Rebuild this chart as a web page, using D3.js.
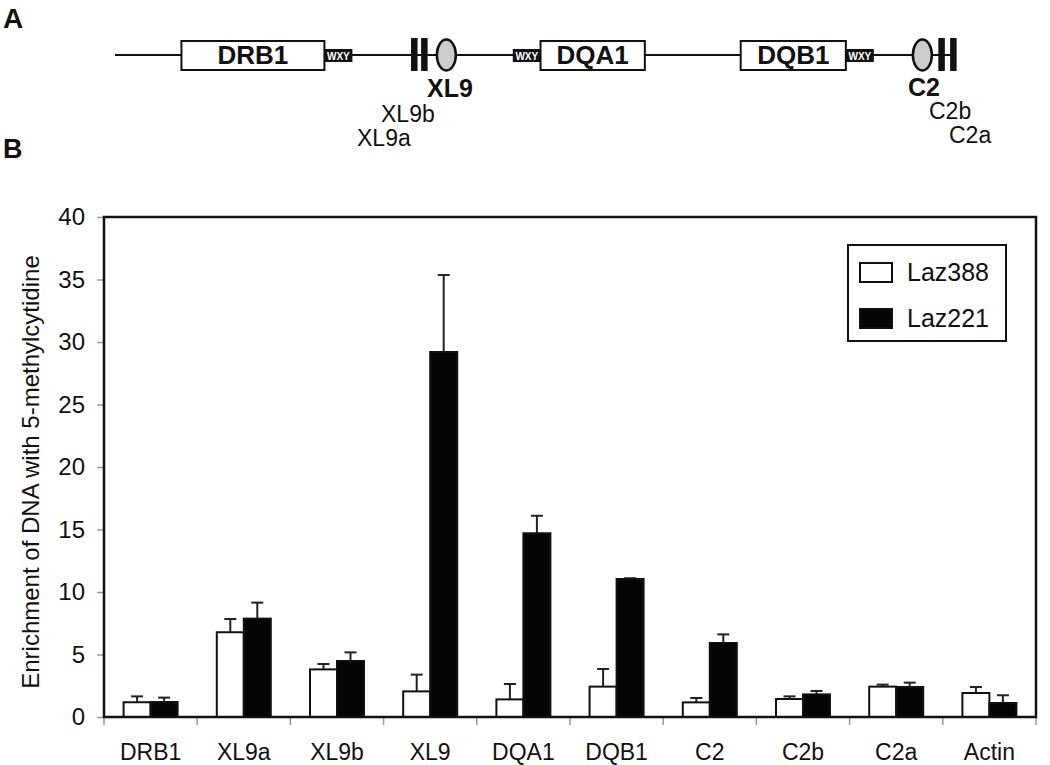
<!DOCTYPE html>
<html>
<head>
<meta charset="utf-8">
<script src="https://cdn.jsdelivr.net/npm/d3@7"></script>
<style>
  body { margin: 0; background: #fff; }
  text { font-family: "Liberation Sans", Arial, sans-serif; fill: #111; }
</style>
</head>
<body>
<div id="root"></div>
<script>
// chart data
const categories = ["DRB1", "XL9a", "XL9b", "XL9", "DQA1", "DQB1", "C2", "C2b", "C2a", "Actin"];
const seriesNames = ["Laz388", "Laz221"];
const laz388 = [1.18, 6.78, 3.81, 2.05, 1.41, 2.43, 1.17, 1.44, 2.43, 1.92];
const laz388Err = [0.47, 1.06, 0.43, 1.34, 1.23, 1.41, 0.35, 0.21, 0.16, 0.48];
const laz221 = [1.2, 7.87, 4.48, 29.2, 14.7, 11.04, 5.92, 1.81, 2.4, 1.12];
const laz221Err = [0.35, 1.28, 0.69, 6.16, 1.4, 0.06, 0.69, 0.27, 0.35, 0.62];
const yTicks = [0, 5, 10, 15, 20, 25, 30, 35, 40];

// schematic of the locus (map units along the line)
const mapGenes = ["DRB1", "DQA1", "DQB1"];
const mapInsulators = ["XL9", "C2"];
const mapSubLabels = [["XL9b", "XL9a"], ["C2b", "C2a"]];

const W = 1050, H = 765;
const svg = d3.select("#root").append("svg")
  .attr("width", W).attr("height", H);

// ---------- panel A ----------
const mx = d3.scaleLinear().domain([0, 100]).range([115, 956]);
const lineY = 55;
// gene boxes: [start, end] in map units
const geneSpan = [[7.9, 24.9], [50.6, 63.0], [74.4, 86.9]];
const wxyPos = [24.9, 47.3, 86.9];   // left edge of each WXY block
const ovalPos = [39.4, 96.0];
const barPos = [[35.2, 36.4], [97.9, 99.3]];

svg.append("line")
  .attr("x1", mx(0)).attr("x2", mx(100))
  .attr("y1", lineY).attr("y2", lineY)
  .attr("stroke", "#111").attr("stroke-width", 2);

mapGenes.forEach((g, i) => {
  const [a, b] = geneSpan[i];
  svg.append("rect")
    .attr("x", mx(a)).attr("y", 41)
    .attr("width", mx(b) - mx(a)).attr("height", 29)
    .attr("fill", "#fff").attr("stroke", "#111").attr("stroke-width", 2);
  svg.append("text")
    .attr("x", (mx(a) + mx(b)) / 2).attr("y", 64)
    .attr("text-anchor", "middle")
    .style("font-size", "26px").style("font-weight", "bold")
    .text(g);
});

wxyPos.forEach(p => {
  svg.append("rect")
    .attr("x", mx(p)).attr("y", 49)
    .attr("width", 28).attr("height", 13)
    .attr("fill", "#111");
  svg.append("text")
    .attr("x", mx(p) + 14).attr("y", 59.5)
    .attr("text-anchor", "middle")
    .style("font-size", "10px").style("font-weight", "bold")
    .style("fill", "#fff")
    .text("WXY");
});

barPos.forEach(pair => {
  pair.forEach(p => {
    svg.append("rect")
      .attr("x", mx(p)).attr("y", 38)
      .attr("width", 6.5).attr("height", 33)
      .attr("fill", "#111");
  });
});

ovalPos.forEach(p => {
  svg.append("ellipse")
    .attr("cx", mx(p)).attr("cy", lineY)
    .attr("rx", 9.5).attr("ry", 15.5)
    .attr("fill", "#ccc").attr("stroke", "#111").attr("stroke-width", 2.5);
});

// insulator labels
svg.append("text").attr("x", 450).attr("y", 97)
  .attr("text-anchor", "middle")
  .style("font-size", "25px").style("font-weight", "bold")
  .text(mapInsulators[0]);
svg.append("text").attr("x", 381).attr("y", 122)
  .style("font-size", "23px").text(mapSubLabels[0][0]);
svg.append("text").attr("x", 357).attr("y", 146)
  .style("font-size", "23px").text(mapSubLabels[0][1]);

svg.append("text").attr("x", 908).attr("y", 96)
  .style("font-size", "25px").style("font-weight", "bold")
  .text(mapInsulators[1]);
svg.append("text").attr("x", 929).attr("y", 119)
  .style("font-size", "23px").text(mapSubLabels[1][0]);
svg.append("text").attr("x", 949).attr("y", 143)
  .style("font-size", "23px").text(mapSubLabels[1][1]);

// panel letters
svg.append("text").attr("x", 3).attr("y", 28)
  .style("font-size", "28px").style("font-weight", "bold").text("A");
svg.append("text").attr("x", 3).attr("y", 158)
  .style("font-size", "27px").style("font-weight", "bold").text("B");

// ---------- panel B ----------
const plotLeft = 104, plotRight = 1036, plotTop = 217, plotBottom = 717;

const x0 = d3.scaleBand().domain(categories).range([plotLeft, plotRight]).padding(0);
const x1 = d3.scaleBand().domain(seriesNames)
  .range([(x0.bandwidth() - 54) / 2, (x0.bandwidth() + 54) / 2]);
const y = d3.scaleLinear().domain([0, 40]).range([plotBottom, plotTop]);

// y axis
const yAxis = svg.append("g")
  .attr("transform", `translate(${plotLeft},0)`)
  .call(d3.axisLeft(y).tickValues(yTicks).tickSize(7).tickPadding(12));
yAxis.select(".domain").remove();
yAxis.selectAll(".tick line").attr("stroke", "#999").attr("stroke-width", 1.5);
yAxis.selectAll(".tick text")
  .style("font-size", "24px").style("font-family", "'Liberation Sans', Arial, sans-serif")
  .attr("fill", "#111");

// x axis: ticks between the categories, labels centred
const xEdges = categories.map(c => x0(c)).concat([plotRight]);
svg.append("g").selectAll("line")
  .data(xEdges).enter().append("line")
  .attr("x1", d => d).attr("x2", d => d)
  .attr("y1", plotBottom).attr("y2", plotBottom + 8)
  .attr("stroke", "#999").attr("stroke-width", 1.5);
svg.append("g").selectAll("text")
  .data(categories).enter().append("text")
  .attr("x", d => x0(d) + x0.bandwidth() / 2)
  .attr("y", 760)
  .attr("text-anchor", "middle")
  .style("font-size", "23px")
  .text(d => d);

// axis title
svg.append("text")
  .attr("transform", `translate(39,${(plotTop + plotBottom) / 2 + 5}) rotate(-90)`)
  .attr("text-anchor", "middle")
  .style("font-size", "24px")
  .text("Enrichment of DNA with 5-methylcytidine");

// bars
const series = [
  { name: seriesNames[0], values: laz388, errs: laz388Err, fill: "#fff" },
  { name: seriesNames[1], values: laz221, errs: laz221Err, fill: "#050505" }
];

series.forEach(s => {
  const g = svg.append("g");
  const rows = categories.map((c, i) => ({ c: c, v: s.values[i], e: s.errs[i] }));
  const bx = d => x0(d.c) + x1(s.name);
  // error bars (upper only)
  g.selectAll("line.err")
    .data(rows).enter().append("line")
    .attr("x1", d => bx(d) + x1.bandwidth() / 2)
    .attr("x2", d => bx(d) + x1.bandwidth() / 2)
    .attr("y1", d => y(d.v)).attr("y2", d => y(d.v + d.e))
    .attr("stroke", "#222").attr("stroke-width", 2);
  g.selectAll("line.cap")
    .data(rows).enter().append("line")
    .attr("x1", d => bx(d) + x1.bandwidth() / 2 - 6)
    .attr("x2", d => bx(d) + x1.bandwidth() / 2 + 6)
    .attr("y1", d => y(d.v + d.e)).attr("y2", d => y(d.v + d.e))
    .attr("stroke", "#222").attr("stroke-width", 2);
  g.selectAll("rect")
    .data(rows).enter().append("rect")
    .attr("x", bx)
    .attr("y", d => y(d.v))
    .attr("width", x1.bandwidth())
    .attr("height", d => plotBottom - y(d.v))
    .attr("fill", s.fill)
    .attr("stroke", "#111").attr("stroke-width", 2);
});

// frame
svg.append("rect")
  .attr("x", plotLeft).attr("y", plotTop)
  .attr("width", plotRight - plotLeft).attr("height", plotBottom - plotTop)
  .attr("fill", "none").attr("stroke", "#111").attr("stroke-width", 2.5);

// legend
const lg = svg.append("g").attr("transform", "translate(848,245)");
lg.append("rect")
  .attr("width", 158).attr("height", 96)
  .attr("fill", "#fff").attr("stroke", "#111").attr("stroke-width", 2);
series.forEach((s, i) => {
  lg.append("rect")
    .attr("x", 12).attr("y", 18 + i * 46)
    .attr("width", 32).attr("height", 19)
    .attr("fill", s.fill).attr("stroke", "#111").attr("stroke-width", 2);
  lg.append("text")
    .attr("x", 59).attr("y", 36 + i * 46)
    .style("font-size", "25px")
    .text(s.name);
});
</script>
</body>
</html>
